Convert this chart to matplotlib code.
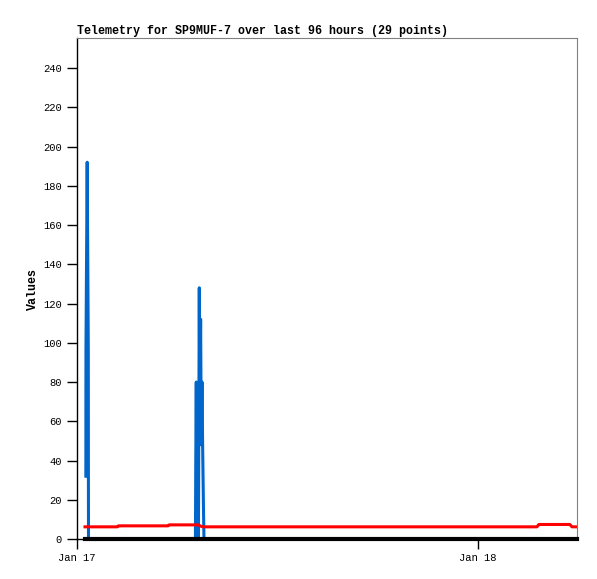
import numpy as np
import pandas as pd
import matplotlib
matplotlib.use("Agg")
import matplotlib.pyplot as plt
import matplotlib.dates as mdates

# hours after 2024-01-17 00:00 and values
start = pd.Timestamp("2024-01-17 00:00")
x_end_hours = 29.93

blue_hours = [0.530, 0.536, 0.610, 0.676, 0.682, 0.688,
              7.09, 7.11, 7.14, 7.17, 7.21, 7.27, 7.32, 7.35, 7.40, 7.44, 7.48, 7.52, 7.57, 7.60]
blue_vals = [32, 96, 192, 96, 32, 0,
             0, 40, 80, 20, 64, 0, 128, 64, 112, 48, 80, 48, 16, 0]

red_hours = [0.48, 2.42, 2.48, 5.45, 5.51, 7.24, 7.42, 7.54, 27.53, 27.65, 29.50, 29.63, 29.92]
red_vals = [6.2, 6.2, 6.7, 6.7, 7.2, 7.2, 6.5, 6.2, 6.2, 7.4, 7.4, 6.2, 6.2]

black_hours = [0.48, 29.93]
black_vals = [0, 0]

y_ticks = list(range(0, 241, 20))


def to_time(hours):
    return [start + pd.Timedelta(hours=h) for h in hours]


plt.rcParams['font.family'] = ['Liberation Mono', 'DejaVu Sans Mono']

fig = plt.figure(figsize=(5.97, 5.79), dpi=100)
ax = fig.add_axes([77 / 597, 40 / 579, 500 / 597, 501 / 579])

ax.plot(to_time(black_hours), black_vals, color='black', lw=3, clip_on=False, zorder=3)
ax.plot(to_time(red_hours), red_vals, color='#ff0000', lw=2.2, zorder=2)
ax.plot(to_time(blue_hours), blue_vals, color='#0066cc', lw=2.2, zorder=1)

ax.set_xlim(start, start + pd.Timedelta(hours=x_end_hours))
ax.set_ylim(0, 255.3)
ax.set_yticks(y_ticks)
ax.xaxis.set_major_locator(mdates.DayLocator())
ax.xaxis.set_major_formatter(mdates.DateFormatter('%b %d'))

ax.tick_params(axis='both', direction='out', length=7, width=1, labelsize=7.6, colors='black')
ax.tick_params(axis='x', pad=3)
ax.tick_params(axis='y', pad=4)

for side in ['top', 'right']:
    ax.spines[side].set_color('#808080')
    ax.spines[side].set_linewidth(0.8)
for side in ['left', 'bottom']:
    ax.spines[side].set_color('black')
    ax.spines[side].set_linewidth(1)

ax.set_title('Telemetry for SP9MUF-7 over last 96 hours (29 points)',
             loc='left', fontsize=8.4, fontweight='bold', pad=3)
ax.set_ylabel('Values', fontsize=8.4, fontweight='bold')
ax.yaxis.set_label_coords(-0.076, 0.5)

fig.savefig('out.png', dpi=100, facecolor='white')
